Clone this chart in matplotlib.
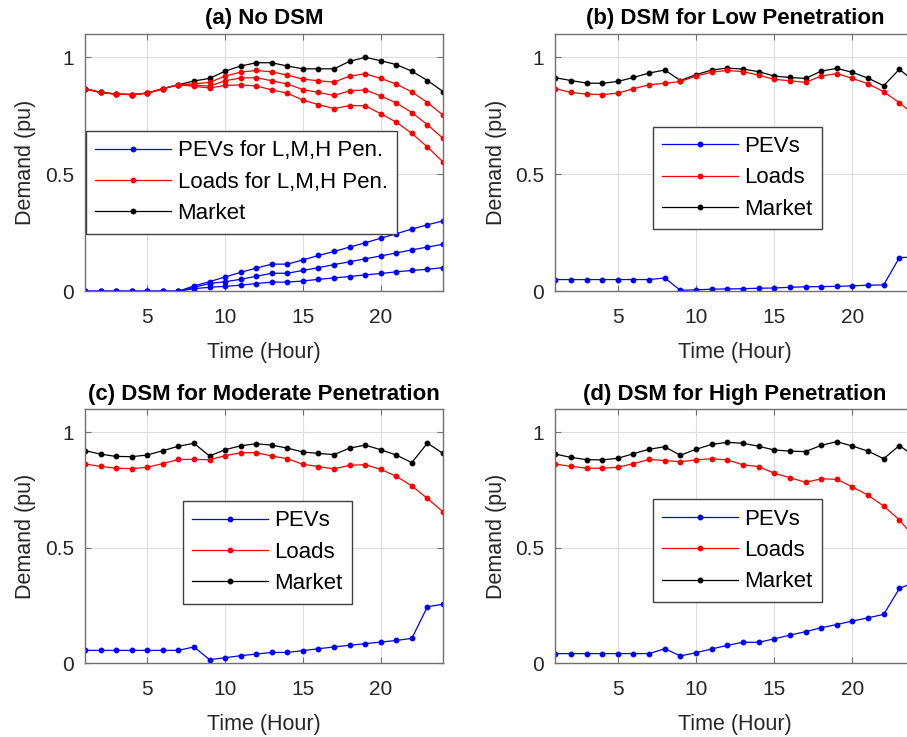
import numpy as np
import matplotlib
matplotlib.use("Agg")
import matplotlib.pyplot as plt

plt.rcParams['font.family'] = ['Liberation Sans', 'DejaVu Sans']

hours = np.arange(1, 25)

# (a) No DSM
a_market = [0.866, 0.850, 0.843, 0.841, 0.847, 0.866, 0.883, 0.899, 0.910, 0.941, 0.963, 0.977,
            0.977, 0.963, 0.951, 0.951, 0.951, 0.983, 1.000, 0.986, 0.969, 0.941, 0.901, 0.854]
a_loads_l = [0.866, 0.850, 0.843, 0.841, 0.847, 0.866, 0.883, 0.887, 0.893, 0.920, 0.937, 0.944,
             0.938, 0.924, 0.907, 0.900, 0.894, 0.920, 0.930, 0.910, 0.886, 0.852, 0.807, 0.753]
a_loads_m = [0.866, 0.850, 0.843, 0.841, 0.847, 0.866, 0.883, 0.882, 0.877, 0.900, 0.912, 0.913,
             0.900, 0.886, 0.862, 0.850, 0.837, 0.857, 0.861, 0.835, 0.805, 0.764, 0.712, 0.654]
a_loads_h = [0.866, 0.850, 0.843, 0.841, 0.847, 0.866, 0.883, 0.876, 0.869, 0.880, 0.882, 0.878,
             0.861, 0.847, 0.817, 0.798, 0.781, 0.794, 0.793, 0.759, 0.723, 0.675, 0.617, 0.553]
a_pev_l = [0, 0, 0, 0, 0, 0, 0, 0.011, 0.017, 0.021, 0.026, 0.033,
           0.039, 0.039, 0.044, 0.051, 0.057, 0.063, 0.070, 0.076, 0.083, 0.089, 0.094, 0.101]
a_pev_m = [0, 0, 0, 0, 0, 0, 0, 0.017, 0.033, 0.041, 0.051, 0.064,
           0.077, 0.077, 0.089, 0.101, 0.114, 0.126, 0.139, 0.151, 0.164, 0.177, 0.189, 0.201]
a_pev_h = [0, 0, 0, 0, 0, 0, 0, 0.023, 0.041, 0.061, 0.081, 0.099,
           0.116, 0.116, 0.134, 0.153, 0.170, 0.189, 0.207, 0.227, 0.246, 0.266, 0.284, 0.301]

# (b) DSM for Low Penetration
b_market = [0.913, 0.901, 0.890, 0.889, 0.897, 0.914, 0.933, 0.946, 0.901, 0.926, 0.946, 0.954,
            0.950, 0.939, 0.920, 0.914, 0.910, 0.941, 0.953, 0.936, 0.911, 0.879, 0.949, 0.895]
b_loads = [0.866, 0.850, 0.843, 0.841, 0.847, 0.866, 0.883, 0.889, 0.897, 0.920, 0.937, 0.944,
           0.939, 0.924, 0.906, 0.900, 0.893, 0.920, 0.931, 0.910, 0.887, 0.853, 0.806, 0.752]
b_pev = [0.050, 0.050, 0.050, 0.050, 0.050, 0.050, 0.050, 0.057, 0.004, 0.006, 0.009, 0.010,
         0.011, 0.013, 0.014, 0.017, 0.019, 0.020, 0.021, 0.023, 0.026, 0.027, 0.144, 0.146]

# (c) DSM for Moderate Penetration
c_market = [0.921, 0.906, 0.896, 0.895, 0.902, 0.921, 0.940, 0.953, 0.898, 0.925, 0.942, 0.951,
            0.945, 0.932, 0.915, 0.909, 0.904, 0.932, 0.945, 0.925, 0.902, 0.869, 0.954, 0.909]
c_loads = [0.863, 0.853, 0.845, 0.843, 0.849, 0.865, 0.883, 0.883, 0.882, 0.899, 0.912, 0.912,
           0.898, 0.886, 0.862, 0.852, 0.842, 0.858, 0.860, 0.840, 0.810, 0.768, 0.714, 0.656]
c_pev = [0.056, 0.056, 0.056, 0.056, 0.056, 0.056, 0.056, 0.071, 0.016, 0.024, 0.033, 0.040,
         0.047, 0.047, 0.055, 0.063, 0.071, 0.078, 0.085, 0.092, 0.099, 0.108, 0.245, 0.256]

# (d) DSM for High Penetration
d_market = [0.906, 0.892, 0.882, 0.881, 0.888, 0.908, 0.927, 0.938, 0.901, 0.927, 0.948, 0.957,
            0.953, 0.940, 0.924, 0.919, 0.917, 0.944, 0.960, 0.941, 0.919, 0.886, 0.943, 0.896]
d_loads = [0.863, 0.853, 0.845, 0.845, 0.849, 0.865, 0.883, 0.878, 0.873, 0.881, 0.886, 0.881,
           0.860, 0.852, 0.823, 0.804, 0.784, 0.799, 0.797, 0.764, 0.728, 0.681, 0.621, 0.543]
d_pev = [0.042, 0.042, 0.042, 0.042, 0.042, 0.042, 0.042, 0.063, 0.032, 0.046, 0.062, 0.078,
         0.091, 0.091, 0.106, 0.122, 0.137, 0.154, 0.168, 0.183, 0.197, 0.212, 0.324, 0.352]

titles = ["(a) No DSM", "(b) DSM for Low Penetration",
          "(c) DSM for Moderate Penetration", "(d) DSM for High Penetration"]

fig = plt.figure(figsize=(9.07, 7.37), dpi=100)

# right column runs past the figure edge, as in the original crop
positions = [[0.0937, 0.6048, 0.3947, 0.3491],
             [0.6122, 0.6048, 0.3966, 0.3491],
             [0.0937, 0.1000, 0.3947, 0.3446],
             [0.6122, 0.1000, 0.3966, 0.3446]]
legend_at = [(0.003, 0.623), (0.271, 0.640), (0.273, 0.639), (0.271, 0.646)]

AX_COL = '#707070'
TXT_COL = '#262626'
style = dict(lw=0.9, marker='o', ms=3.2)


def setup(ax, title):
    ax.set_xlim(1, 24)
    ax.set_ylim(0, 1.1)
    ax.set_xticks([5, 10, 15, 20])
    ax.set_yticks([0, 0.5, 1])
    ax.set_yticklabels(['0', '0.5', '1'])
    ax.grid(True, color='#dedede', lw=0.8)
    ax.set_axisbelow(True)
    for s in ax.spines.values():
        s.set_color(AX_COL)
        s.set_linewidth(1.0)
    ax.tick_params(direction='in', top=True, right=True, length=4, color=AX_COL,
                   labelsize=15, labelcolor=TXT_COL)
    ax.tick_params(axis='x', pad=12)
    ax.tick_params(axis='y', pad=8)
    ax.set_xlabel('Time (Hour)', fontsize=15.5, color=TXT_COL, labelpad=11)
    ax.set_ylabel('Demand (pu)', fontsize=15.5, color=TXT_COL, labelpad=6)
    ax.set_title(title, fontsize=16, fontweight='bold', pad=7)


def add_legend(ax, handles, labels, anchor):
    leg = ax.legend(handles, labels, loc='upper left', bbox_to_anchor=anchor,
                    borderaxespad=0, fontsize=16, handlelength=3.4, handletextpad=0.3,
                    labelspacing=0.47, borderpad=0.42, fancybox=False, framealpha=1)
    leg.get_frame().set_edgecolor('#404040')
    leg.get_frame().set_linewidth(1.0)


# (a)
ax = fig.add_axes(positions[0])
setup(ax, titles[0])
hm, = ax.plot(hours, a_market, color='k', **style)
hl, = ax.plot(hours, a_loads_l, color='r', **style)
ax.plot(hours, a_loads_m, color='r', **style)
ax.plot(hours, a_loads_h, color='r', **style)
hp, = ax.plot(hours, a_pev_l, color='b', **style)
ax.plot(hours, a_pev_m, color='b', **style)
ax.plot(hours, a_pev_h, color='b', **style)
add_legend(ax, [hp, hl, hm], ['PEVs for L,M,H Pen.', 'Loads for L,M,H Pen.', 'Market'], legend_at[0])

# (b), (c), (d)
panels = [(b_market, b_loads, b_pev), (c_market, c_loads, c_pev), (d_market, d_loads, d_pev)]
for i, (mk, ld, pv) in enumerate(panels, start=1):
    ax = fig.add_axes(positions[i])
    setup(ax, titles[i])
    hm, = ax.plot(hours, mk, color='k', **style)
    hl, = ax.plot(hours, ld, color='r', **style)
    hp, = ax.plot(hours, pv, color='b', **style)
    add_legend(ax, [hp, hl, hm], ['PEVs', 'Loads', 'Market'], legend_at[i])

fig.savefig('out.png', dpi=100)
